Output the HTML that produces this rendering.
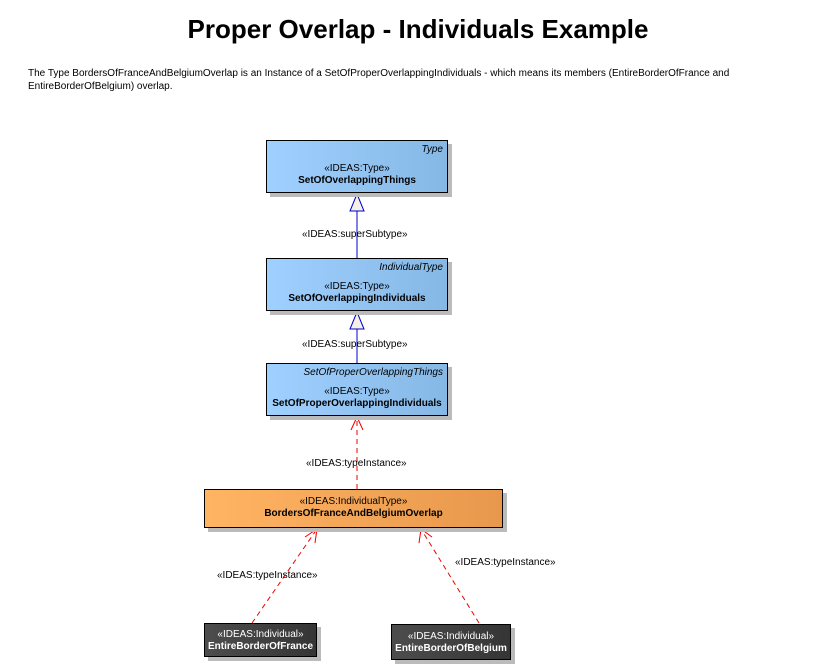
<!DOCTYPE html>
<html><head><style>
body{margin:0;width:833px;height:672px;background:#fff;font-family:"Liberation Sans",sans-serif;position:relative;overflow:hidden}
.t{position:absolute;left:0;width:836px;top:14px;text-align:center;font-size:26px;font-weight:bold}
.d{position:absolute;left:28px;top:67px;font-size:10px;line-height:13px;width:780px}
.b{position:absolute;border:1px solid #000;box-shadow:4px 4px 0 #bbb;font-size:10px;line-height:12px;text-align:center;box-sizing:border-box}
.blue{background:linear-gradient(to right,#9fd0ff,#86b8e6)}
.or{background:linear-gradient(to right,#ffb463,#e8984c)}
.dk{background:linear-gradient(to right,#4d4d4d,#353535);color:#fff}
.it{position:absolute;right:4px;top:3px;font-style:italic;font-size:10px}
.l{position:absolute;font-size:10px}
</style></head><body>
<div class="t">Proper Overlap - Individuals Example</div>
<div class="d">The Type BordersOfFranceAndBelgiumOverlap is an Instance of a SetOfProperOverlappingIndividuals - which means its members (EntireBorderOfFrance and EntireBorderOfBelgium) overlap.</div>
<svg style="position:absolute;left:0;top:0" width="833" height="672">
<g stroke="#00c" fill="#fff">
<line x1="357" y1="211" x2="357" y2="258"/>
<polygon points="357,194 350,211 364,211" fill="#f5f0e8"/>
<line x1="357" y1="329" x2="357" y2="363"/>
<polygon points="357,312 350,329 364,329" fill="#f5f0e8"/>
</g>
<g stroke="#e00" fill="none" stroke-dasharray="5,4">
<line x1="357" y1="489" x2="357" y2="417"/>
<line x1="252" y1="623" x2="317" y2="529"/>
<line x1="479" y1="623" x2="421" y2="529"/>
</g>
<g stroke="#e00" fill="none">
<polyline points="351,430 357,417 363,430"/>
<polyline points="305,537 317,529 315,543"/>
<polyline points="419,543 421,529 432,537"/>
</g>
</svg>
<div class="b blue" style="left:266px;top:140px;width:182px;height:53px"><span class="it">Type</span><div style="margin-top:22px">«IDEAS:Type»</div><b>SetOfOverlappingThings</b></div>
<div class="b blue" style="left:266px;top:258px;width:182px;height:53px"><span class="it">IndividualType</span><div style="margin-top:22px">«IDEAS:Type»</div><b>SetOfOverlappingIndividuals</b></div>
<div class="b blue" style="left:266px;top:363px;width:182px;height:53px"><span class="it">SetOfProperOverlappingThings</span><div style="margin-top:22px">«IDEAS:Type»</div><b>SetOfProperOverlappingIndividuals</b></div>
<div class="b or" style="left:204px;top:489px;width:299px;height:39px"><div style="margin-top:6px">«IDEAS:IndividualType»</div><b>BordersOfFranceAndBelgiumOverlap</b></div>
<div class="b dk" style="left:204px;top:623px;width:113px;height:34px"><div style="margin-top:5px">«IDEAS:Individual»</div><b>EntireBorderOfFrance</b></div>
<div class="b dk" style="left:391px;top:624px;width:120px;height:36px"><div style="margin-top:6px">«IDEAS:Individual»</div><b>EntireBorderOfBelgium</b></div>
<div class="l" style="left:302px;top:229px">«IDEAS:superSubtype»</div>
<div class="l" style="left:302px;top:339px">«IDEAS:superSubtype»</div>
<div class="l" style="left:306px;top:458px">«IDEAS:typeInstance»</div>
<div class="l" style="left:217px;top:570px">«IDEAS:typeInstance»</div>
<div class="l" style="left:455px;top:557px">«IDEAS:typeInstance»</div>
</body></html>
